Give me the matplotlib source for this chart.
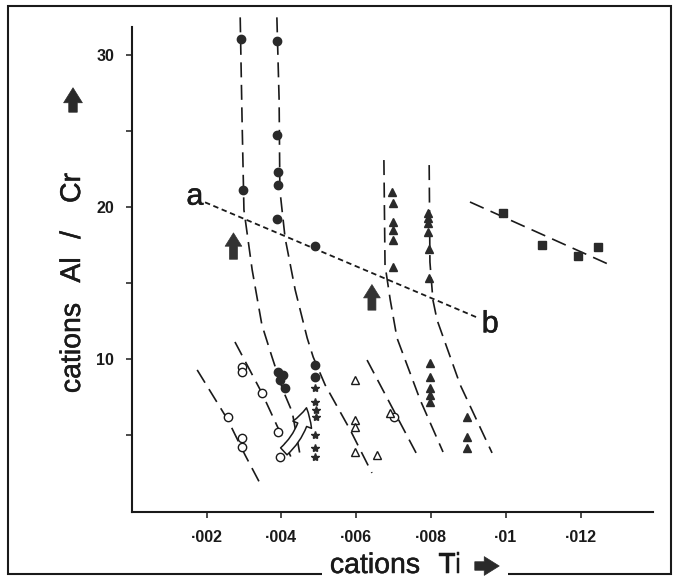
import matplotlib
matplotlib.use("Agg")
import matplotlib.pyplot as plt
from matplotlib.patches import FancyArrowPatch, Rectangle
import matplotlib.patheffects as pe
import numpy as np

plt.rcParams['font.family'] = ['Liberation Sans', 'DejaVu Sans']

# ---- data (x in units of 0.001 cations Ti, y = Al/Cr) ----
fc_x = [2.93, 2.98, 3.88, 3.88, 3.90, 3.92, 3.88, 4.90, 3.92, 4.05, 3.96, 4.10, 4.90, 4.90]
fc_y = [31.07, 21.15, 30.94, 24.76, 22.3, 21.5, 19.2, 17.45, 9.18, 8.97, 8.64, 8.09, 9.63, 8.84]

star_x = [4.90, 4.90, 4.92, 4.92, 4.90, 4.90, 4.90]
star_y = [8.12, 7.19, 6.66, 6.20, 5.02, 4.16, 3.57]

oc_x = [2.57, 2.95, 2.95, 3.49, 3.91, 3.97, 2.95, 2.95, 7.01]
oc_y = [6.20, 9.50, 9.17, 7.80, 5.22, 3.57, 4.82, 4.23, 6.20]

ot_x = [5.97, 5.97, 5.97, 5.97, 6.56, 6.90]
ot_y = [8.64, 6.00, 5.55, 3.90, 3.70, 6.47]

ft_x = [6.95, 6.97, 6.97, 6.99, 6.99, 6.99,
        7.92, 7.92, 7.92, 7.92, 7.95, 7.95,
        7.97, 7.97, 7.97, 7.97, 7.97,
        8.96, 8.96, 8.96]
ft_y = [21.03, 20.26, 19.05, 18.50, 17.85, 16.09,
        19.60, 19.30, 18.97, 18.38, 17.26, 15.35,
        9.76, 8.84, 8.12, 7.65, 7.20,
        6.20, 4.89, 4.16]

sq_x = [9.93, 10.97, 11.93, 12.47]
sq_y = [19.63, 17.52, 16.80, 17.39]

# hand-drawn dashed trend curves
curve_A = ([1.75, 2.57, 3.03, 3.48], [9.30, 6.01, 3.70, 1.60])
curve_B = ([2.76, 3.48, 3.96, 4.29], [11.14, 7.78, 5.22, 3.38])
curve_C = ([2.90, 2.95, 3.00, 3.22, 3.48, 3.75, 4.04, 4.29, 4.50],
           [32.5, 25.74, 19.82, 15.88, 12.26, 10.15, 7.98, 6.53, 3.70])
curve_D = ([3.88, 3.94, 3.96, 4.10, 4.37, 4.69, 4.85, 5.17, 5.84, 6.42],
           [32.5, 27.06, 21.14, 17.98, 14.56, 11.40, 10.15, 8.31, 5.35, 2.52])
curve_E = ([6.74, 6.77, 6.91, 7.09, 7.71, 8.32], [23.11, 16.20, 13.90, 11.40, 7.32, 3.90])
curve_F = ([7.95, 7.97, 8.05, 8.16, 8.78, 9.63], [22.78, 16.40, 13.90, 12.59, 8.31, 3.84])
curve_G = ([6.29, 7.63], [9.95, 3.70])
curve_sq = ([9.04, 12.79], [20.35, 16.20])
line_ab = ([1.96, 9.26], [20.33, 12.72])
lab_a = (1.69, 20.7)
lab_b = (9.58, 12.3)

arrows_up = [((2.72, 16.4), (2.72, 18.5)), ((6.42, 13.05), (6.42, 15.1))]
hollow_arrow = ((4.01, 3.82), (4.68, 6.99))

xticks = [2, 4, 6, 8, 10, 12]
xticklabels = ['·002', '·004', '·006', '·008', '·01', '·012']
yticks = [5, 10, 15, 20, 25, 30]
yticklabels = ['', '10', '', '20', '', '30']

S = 1e-3
def sx(v):
    return [a * S for a in v]

W, H = 677, 579
fig = plt.figure(figsize=(W / 100, H / 100), dpi=100)
ax = fig.add_axes([0.1945, 0.1149, 0.770, 0.863])
ax.set_xlim(0, 13.93 * S)
ax.set_ylim(-0.08, 32.8)

ink = '#1a1a1a'
thick = [pe.withStroke(linewidth=0.35, foreground=ink)]
dash = dict(color=ink, lw=1.2, dashes=(9, 4.5), solid_capstyle='butt')
for cx, cy in [curve_A, curve_B, curve_C, curve_D, curve_E, curve_F, curve_G, curve_sq]:
    ax.plot(sx(cx), cy, **dash)
ax.plot(sx(line_ab[0]), line_ab[1], color=ink, lw=1.3, dashes=(3, 2))

ax.text(lab_a[0] * S, lab_a[1], 'a', fontsize=22, ha='center', va='center', color=ink,
        path_effects=thick)
ax.text(lab_b[0] * S, lab_b[1], 'b', fontsize=22, ha='center', va='center', color=ink,
        path_effects=thick)

ax.plot(sx(fc_x), fc_y, 'o', ms=6, color='#2a2a2a', mec='#2a2a2a')
ax.plot(sx(star_x), star_y, '*', ms=6, color='#2a2a2a')
ax.plot(sx(oc_x), oc_y, 'o', ms=6, mfc='white', mec=ink, mew=1.0)
ax.plot(sx(ot_x), ot_y, '^', ms=5.5, mfc='white', mec=ink, mew=1.0)
ax.plot(sx(ft_x), ft_y, '^', ms=6, color='#2a2a2a')
ax.plot(sx(sq_x), sq_y, 's', ms=6, color='#2a2a2a')

for (x0, y0), (x1, y1) in arrows_up:
    ax.add_patch(FancyArrowPatch((x0 * S, y0), (x1 * S, y1),
                                 arrowstyle='simple,head_width=0.75,head_length=0.6,tail_width=0.36',
                                 mutation_scale=16, fc='#333333', ec='#333333', lw=0.5))
(hx0, hy0), (hx1, hy1) = hollow_arrow
ax.add_patch(FancyArrowPatch((hx0 * S, hy0), (hx1 * S, hy1),
                             arrowstyle='simple,head_width=0.8,head_length=0.7,tail_width=0.38',
                             connectionstyle='arc3,rad=0.2',
                             mutation_scale=18, fc='white', ec=ink, lw=1.1, zorder=5))

for s in ['top', 'right']:
    ax.spines[s].set_visible(False)
for s in ['left', 'bottom']:
    ax.spines[s].set_linewidth(1.5)
    ax.spines[s].set_color(ink)
ax.spines['left'].set_bounds(-0.08, 31.86)

ax.set_xticks(sx(xticks))
ax.set_xticklabels(xticklabels)
ax.set_yticks(yticks)
ax.set_yticklabels(yticklabels)
ax.tick_params(direction='out', length=4.5, width=1.1, color=ink, labelcolor=ink,
               labelsize=11.5, pad=8)
for t in ax.get_xticklabels() + ax.get_yticklabels():
    t.set_fontweight('bold')

def fx(px):
    return px / W

def fy(py):
    return 1 - py / H

# outer frame
fig.add_artist(Rectangle((fx(8), fy(574)), fx(671) - fx(8), fy(6) - fy(574),
                         transform=fig.transFigure, fill=False, ec=ink, lw=1.5, zorder=0))
# the axis title sits over the bottom edge of the frame
fig.add_artist(Rectangle((fx(322), fy(579)), fx(508) - fx(322), fy(0) - fy(26),
                         transform=fig.transFigure, fc='white', ec='none', zorder=1))

# x axis title
fig.text(fx(375), fy(566), 'cations', fontsize=20.5, ha='center', va='center', color=ink,
         path_effects=thick, zorder=3)
fig.text(fx(450), fy(566), 'Ti', fontsize=20.5, ha='center', va='center', color=ink,
         path_effects=thick, zorder=3)
fig.add_artist(FancyArrowPatch((fx(472), fy(566)), (fx(502), fy(566)), transform=fig.transFigure,
                               arrowstyle='simple,head_width=0.75,head_length=0.6,tail_width=0.34',
                               mutation_scale=18, fc='#2a2a2a', ec='#2a2a2a', lw=0.5, zorder=3))

# y axis title
for txt, py in [('cations', 348), ('Al', 270), ('/', 235), ('Cr', 188)]:
    fig.text(fx(73), fy(py), txt, fontsize=20.5, ha='center', va='center', rotation=90,
             color=ink, path_effects=thick)
fig.add_artist(FancyArrowPatch((fx(73), fy(115)), (fx(73), fy(85)), transform=fig.transFigure,
                               arrowstyle='simple,head_width=0.75,head_length=0.6,tail_width=0.34',
                               mutation_scale=18, fc='#2a2a2a', ec='#2a2a2a', lw=0.5))

fig.savefig('out.png', dpi=100, facecolor='white')
